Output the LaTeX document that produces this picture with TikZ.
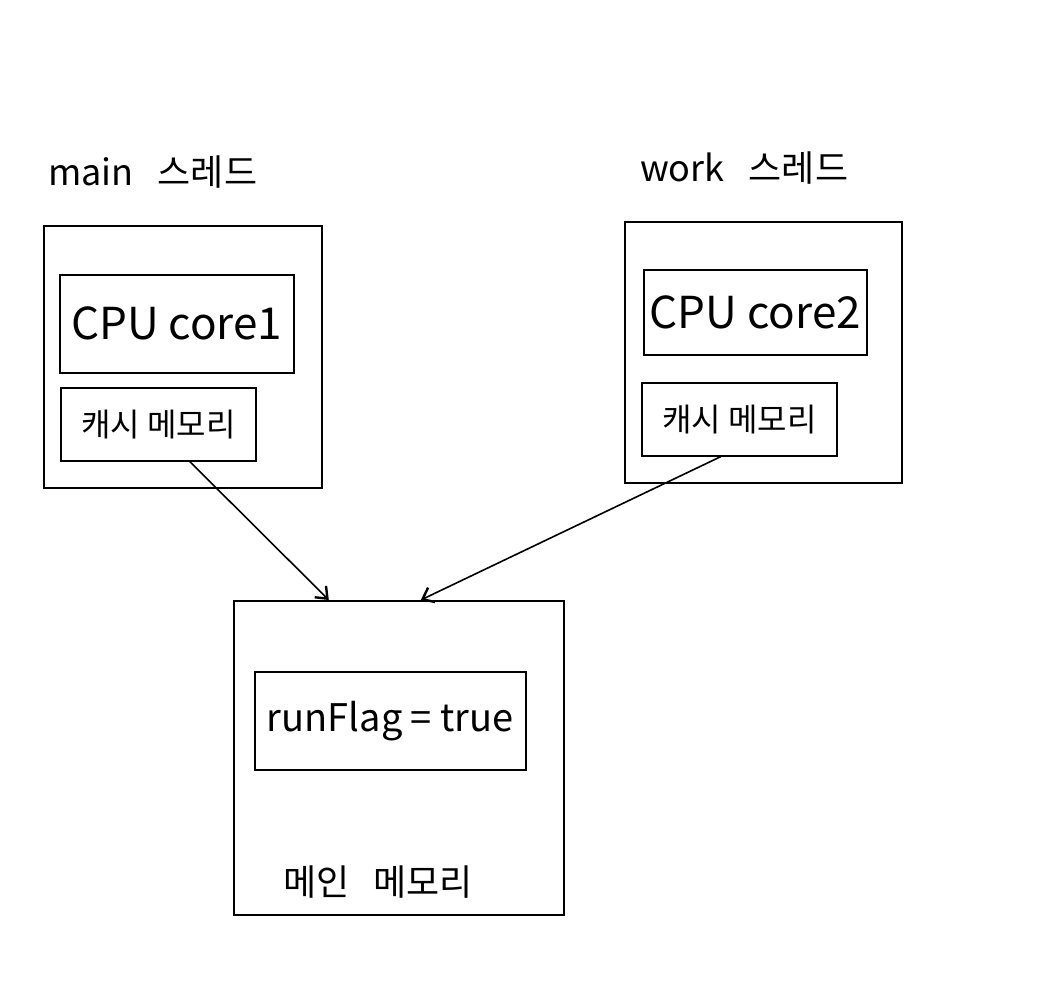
\documentclass[tikz,border=0pt]{standalone}
\usepackage{fontspec}
\setmainfont{Noto Sans CJK KR}
\usetikzlibrary{arrows.meta}
\begin{document}
\begin{tikzpicture}[x=1pt,y=-1pt,
  box/.style={draw,line width=1.6pt,inner sep=0pt,anchor=north west},
  lbl/.style={inner sep=0pt},
  bigtxt/.style={font=\fontsize{44}{48}\selectfont},
  midtxt/.style={font=\fontsize{32}{36}\selectfont},
  hdtxt/.style={font=\fontsize{36}{40}\selectfont},
  conn/.style={line width=1.6pt,-{Straight Barb[length=10pt,width=16pt,line width=2.4pt]}}]
\useasboundingbox (0,0) rectangle (1062,1000);
% main thread
\node[lbl,hdtxt,anchor=west] (mainlbl) at (48,172) {main\ \ \ 스레드};
\node[box,minimum width=278pt,minimum height=262pt] (mainthr) at (43,225) {};
\node[box,bigtxt,minimum width=234pt,minimum height=98pt] (cpu1) at (59,274) {CPU core1};
\node[box,midtxt,minimum width=195pt,minimum height=73pt] (cache1) at (60,387) {캐시 메모리};
% work thread
\node[lbl,hdtxt,anchor=west] (worklbl) at (640,168) {work\ \ \ 스레드};
\node[box,minimum width=277pt,minimum height=261pt] (workthr) at (624,221) {};
\node[box,bigtxt,minimum width=223pt,minimum height=85pt] (cpu2) at (643,269) {CPU core2};
\node[box,midtxt,minimum width=195pt,minimum height=73pt] (cache2) at (641,382) {캐시 메모리};
% main memory
\node[box,minimum width=330pt,minimum height=314pt] (mem) at (233,600) {};
\node[box,font=\fontsize{38}{42}\selectfont,minimum width=271pt,minimum height=98pt] (flag) at (254,671) {runFlag = true};
\node[lbl,hdtxt] (memlbl) at (378,882) {메인\ \ \ 메모리};
% connectors
\draw[conn] ([xshift=31.5pt]cache1.south) -- ([xshift=-70pt]mem.north);
\draw[conn] ([xshift=-18.5pt]cache2.south) -- ([xshift=22pt]mem.north);
\end{tikzpicture}
\end{document}
